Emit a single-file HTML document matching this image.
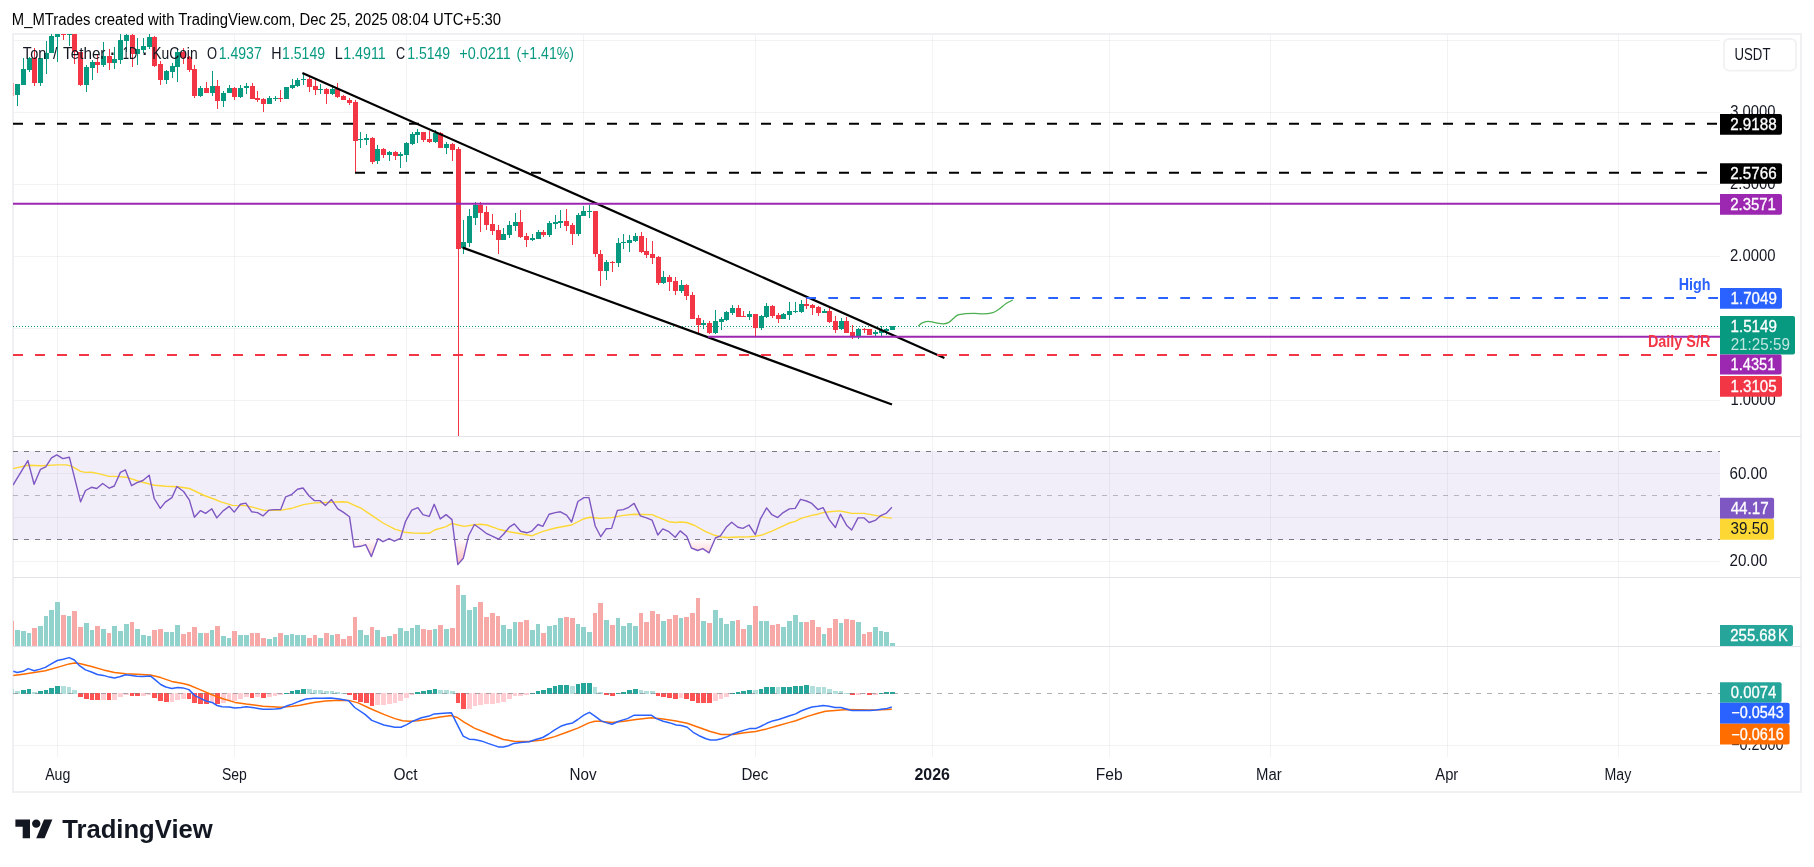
<!DOCTYPE html>
<html><head><meta charset="utf-8"><title>TONUSDT chart</title>
<style>html,body{margin:0;padding:0;background:#fff}body{width:1814px;height:867px;overflow:hidden}svg{display:block;will-change:transform}</style>
</head><body>
<svg width="1814" height="867" viewBox="0 0 1814 867" font-family="'Liberation Sans', sans-serif" font-size="15.6">
<rect width="1814" height="867" fill="#fff"/>
<g shape-rendering="crispEdges" stroke="#2a2e39" stroke-opacity="0.06" stroke-width="1">
<line x1="57.5" y1="34" x2="57.5" y2="757"/>
<line x1="234.5" y1="34" x2="234.5" y2="757"/>
<line x1="406.5" y1="34" x2="406.5" y2="757"/>
<line x1="583.5" y1="34" x2="583.5" y2="757"/>
<line x1="755.5" y1="34" x2="755.5" y2="757"/>
<line x1="932.5" y1="34" x2="932.5" y2="757"/>
<line x1="1109.5" y1="34" x2="1109.5" y2="757"/>
<line x1="1270.5" y1="34" x2="1270.5" y2="757"/>
<line x1="1447.5" y1="34" x2="1447.5" y2="757"/>
<line x1="1618.5" y1="34" x2="1618.5" y2="757"/>
<line x1="13" y1="40.5" x2="1720" y2="40.5"/>
<line x1="13" y1="112.5" x2="1720" y2="112.5"/>
<line x1="13" y1="184.5" x2="1720" y2="184.5"/>
<line x1="13" y1="256.5" x2="1720" y2="256.5"/>
<line x1="13" y1="328.5" x2="1720" y2="328.5"/>
<line x1="13" y1="400.5" x2="1720" y2="400.5"/>
<line x1="13" y1="473.5" x2="1720" y2="473.5"/>
<line x1="13" y1="517.5" x2="1720" y2="517.5"/>
<line x1="13" y1="561.5" x2="1720" y2="561.5"/>
<line x1="13" y1="745.5" x2="1720" y2="745.5"/>
</g>
<rect x="13" y="34" width="1788" height="758" fill="none" stroke="#f0f0f2" stroke-width="2"/>
<rect x="13" y="451" width="1707" height="89" fill="#7e57c2" fill-opacity="0.1"/>
<defs><clipPath id="c1"><rect x="13" y="34" width="1707" height="402"/></clipPath>
<clipPath id="c2"><rect x="13" y="436" width="1707" height="141"/></clipPath>
<clipPath id="c4"><rect x="13" y="646" width="1707" height="111"/></clipPath>
<linearGradient id="og" x1="0" y1="539" x2="0" y2="567" gradientUnits="userSpaceOnUse"><stop offset="0" stop-color="#ff5252" stop-opacity="0"/><stop offset="1" stop-color="#ff5252" stop-opacity="0.45"/></linearGradient>
</defs>
<line x1="13" y1="326.5" x2="1720" y2="326.5" stroke="#089981" stroke-width="1" stroke-dasharray="1 2" shape-rendering="crispEdges"/>
<g shape-rendering="crispEdges">
<rect x="13" y="621" width="1" height="25" fill="#f7a9a7"/>
<rect x="15" y="630" width="5" height="16" fill="#92d2cc"/>
<rect x="21" y="631" width="5" height="15" fill="#92d2cc"/>
<rect x="27" y="633" width="4" height="13" fill="#92d2cc"/>
<rect x="32" y="628" width="5" height="18" fill="#f7a9a7"/>
<rect x="38" y="626" width="5" height="20" fill="#92d2cc"/>
<rect x="44" y="616" width="4" height="30" fill="#92d2cc"/>
<rect x="49" y="610" width="5" height="36" fill="#92d2cc"/>
<rect x="55" y="602" width="5" height="44" fill="#92d2cc"/>
<rect x="61" y="615" width="5" height="31" fill="#f7a9a7"/>
<rect x="67" y="616" width="4" height="30" fill="#92d2cc"/>
<rect x="72" y="611" width="5" height="35" fill="#f7a9a7"/>
<rect x="78" y="627" width="5" height="19" fill="#f7a9a7"/>
<rect x="84" y="623" width="5" height="23" fill="#92d2cc"/>
<rect x="90" y="630" width="4" height="16" fill="#92d2cc"/>
<rect x="95" y="626" width="5" height="20" fill="#f7a9a7"/>
<rect x="101" y="629" width="5" height="17" fill="#92d2cc"/>
<rect x="107" y="633" width="4" height="13" fill="#f7a9a7"/>
<rect x="112" y="626" width="5" height="20" fill="#92d2cc"/>
<rect x="118" y="631" width="5" height="15" fill="#92d2cc"/>
<rect x="124" y="624" width="5" height="22" fill="#92d2cc"/>
<rect x="130" y="622" width="4" height="24" fill="#f7a9a7"/>
<rect x="135" y="629" width="5" height="17" fill="#92d2cc"/>
<rect x="141" y="635" width="5" height="11" fill="#92d2cc"/>
<rect x="147" y="636" width="4" height="10" fill="#92d2cc"/>
<rect x="152" y="630" width="5" height="16" fill="#f7a9a7"/>
<rect x="158" y="629" width="5" height="17" fill="#f7a9a7"/>
<rect x="164" y="632" width="5" height="14" fill="#92d2cc"/>
<rect x="170" y="632" width="4" height="14" fill="#92d2cc"/>
<rect x="175" y="625" width="5" height="21" fill="#92d2cc"/>
<rect x="181" y="634" width="5" height="12" fill="#f7a9a7"/>
<rect x="187" y="632" width="4" height="14" fill="#f7a9a7"/>
<rect x="192" y="627" width="5" height="19" fill="#f7a9a7"/>
<rect x="198" y="633" width="5" height="13" fill="#92d2cc"/>
<rect x="204" y="633" width="5" height="13" fill="#f7a9a7"/>
<rect x="210" y="630" width="4" height="16" fill="#92d2cc"/>
<rect x="215" y="626" width="5" height="20" fill="#f7a9a7"/>
<rect x="221" y="636" width="5" height="10" fill="#92d2cc"/>
<rect x="227" y="638" width="4" height="8" fill="#92d2cc"/>
<rect x="232" y="631" width="5" height="15" fill="#f7a9a7"/>
<rect x="238" y="635" width="5" height="11" fill="#92d2cc"/>
<rect x="244" y="635" width="5" height="11" fill="#92d2cc"/>
<rect x="250" y="633" width="4" height="13" fill="#f7a9a7"/>
<rect x="255" y="633" width="5" height="13" fill="#f7a9a7"/>
<rect x="261" y="638" width="5" height="8" fill="#f7a9a7"/>
<rect x="267" y="639" width="5" height="7" fill="#92d2cc"/>
<rect x="273" y="637" width="4" height="9" fill="#92d2cc"/>
<rect x="278" y="633" width="5" height="13" fill="#f7a9a7"/>
<rect x="284" y="635" width="5" height="11" fill="#92d2cc"/>
<rect x="290" y="634" width="4" height="12" fill="#92d2cc"/>
<rect x="295" y="635" width="5" height="11" fill="#92d2cc"/>
<rect x="301" y="635" width="5" height="11" fill="#92d2cc"/>
<rect x="307" y="638" width="5" height="8" fill="#f7a9a7"/>
<rect x="313" y="635" width="4" height="11" fill="#f7a9a7"/>
<rect x="318" y="638" width="5" height="8" fill="#92d2cc"/>
<rect x="324" y="633" width="5" height="13" fill="#f7a9a7"/>
<rect x="330" y="635" width="4" height="11" fill="#92d2cc"/>
<rect x="335" y="634" width="5" height="12" fill="#f7a9a7"/>
<rect x="341" y="639" width="5" height="7" fill="#f7a9a7"/>
<rect x="347" y="636" width="5" height="10" fill="#f7a9a7"/>
<rect x="353" y="617" width="4" height="29" fill="#f7a9a7"/>
<rect x="358" y="630" width="5" height="16" fill="#92d2cc"/>
<rect x="364" y="635" width="5" height="11" fill="#92d2cc"/>
<rect x="370" y="627" width="4" height="19" fill="#f7a9a7"/>
<rect x="375" y="630" width="5" height="16" fill="#92d2cc"/>
<rect x="381" y="637" width="5" height="9" fill="#f7a9a7"/>
<rect x="387" y="636" width="5" height="10" fill="#92d2cc"/>
<rect x="393" y="634" width="4" height="12" fill="#f7a9a7"/>
<rect x="398" y="628" width="5" height="18" fill="#92d2cc"/>
<rect x="404" y="631" width="5" height="15" fill="#92d2cc"/>
<rect x="410" y="628" width="4" height="18" fill="#92d2cc"/>
<rect x="415" y="625" width="5" height="21" fill="#92d2cc"/>
<rect x="421" y="629" width="5" height="17" fill="#f7a9a7"/>
<rect x="427" y="630" width="5" height="16" fill="#f7a9a7"/>
<rect x="433" y="629" width="4" height="17" fill="#92d2cc"/>
<rect x="438" y="625" width="5" height="21" fill="#f7a9a7"/>
<rect x="444" y="629" width="5" height="17" fill="#92d2cc"/>
<rect x="450" y="628" width="5" height="18" fill="#f7a9a7"/>
<rect x="456" y="585" width="4" height="61" fill="#f7a9a7"/>
<rect x="461" y="595" width="5" height="51" fill="#92d2cc"/>
<rect x="467" y="610" width="5" height="36" fill="#92d2cc"/>
<rect x="473" y="607" width="4" height="39" fill="#92d2cc"/>
<rect x="478" y="602" width="5" height="44" fill="#f7a9a7"/>
<rect x="484" y="617" width="5" height="29" fill="#f7a9a7"/>
<rect x="490" y="613" width="5" height="33" fill="#f7a9a7"/>
<rect x="496" y="616" width="4" height="30" fill="#f7a9a7"/>
<rect x="501" y="625" width="5" height="21" fill="#92d2cc"/>
<rect x="507" y="629" width="5" height="17" fill="#92d2cc"/>
<rect x="513" y="622" width="4" height="24" fill="#92d2cc"/>
<rect x="518" y="622" width="5" height="24" fill="#f7a9a7"/>
<rect x="524" y="620" width="5" height="26" fill="#f7a9a7"/>
<rect x="530" y="630" width="5" height="16" fill="#92d2cc"/>
<rect x="536" y="624" width="4" height="22" fill="#92d2cc"/>
<rect x="541" y="633" width="5" height="13" fill="#f7a9a7"/>
<rect x="547" y="626" width="5" height="20" fill="#92d2cc"/>
<rect x="553" y="625" width="4" height="21" fill="#92d2cc"/>
<rect x="558" y="618" width="5" height="28" fill="#92d2cc"/>
<rect x="564" y="617" width="5" height="29" fill="#f7a9a7"/>
<rect x="570" y="618" width="5" height="28" fill="#f7a9a7"/>
<rect x="576" y="624" width="4" height="22" fill="#92d2cc"/>
<rect x="581" y="627" width="5" height="19" fill="#92d2cc"/>
<rect x="587" y="632" width="5" height="14" fill="#92d2cc"/>
<rect x="593" y="613" width="4" height="33" fill="#f7a9a7"/>
<rect x="598" y="603" width="5" height="43" fill="#f7a9a7"/>
<rect x="604" y="620" width="5" height="26" fill="#92d2cc"/>
<rect x="610" y="625" width="5" height="21" fill="#f7a9a7"/>
<rect x="616" y="618" width="4" height="28" fill="#92d2cc"/>
<rect x="621" y="626" width="5" height="20" fill="#92d2cc"/>
<rect x="627" y="623" width="5" height="23" fill="#92d2cc"/>
<rect x="633" y="626" width="5" height="20" fill="#92d2cc"/>
<rect x="639" y="613" width="4" height="33" fill="#f7a9a7"/>
<rect x="644" y="622" width="5" height="24" fill="#f7a9a7"/>
<rect x="650" y="611" width="5" height="35" fill="#f7a9a7"/>
<rect x="656" y="614" width="4" height="32" fill="#f7a9a7"/>
<rect x="661" y="621" width="5" height="25" fill="#92d2cc"/>
<rect x="667" y="619" width="5" height="27" fill="#f7a9a7"/>
<rect x="673" y="615" width="5" height="31" fill="#f7a9a7"/>
<rect x="679" y="618" width="4" height="28" fill="#92d2cc"/>
<rect x="684" y="617" width="5" height="29" fill="#f7a9a7"/>
<rect x="690" y="613" width="5" height="33" fill="#f7a9a7"/>
<rect x="696" y="598" width="4" height="48" fill="#f7a9a7"/>
<rect x="701" y="621" width="5" height="25" fill="#92d2cc"/>
<rect x="707" y="623" width="5" height="23" fill="#f7a9a7"/>
<rect x="713" y="610" width="5" height="36" fill="#92d2cc"/>
<rect x="719" y="618" width="4" height="28" fill="#92d2cc"/>
<rect x="724" y="624" width="5" height="22" fill="#92d2cc"/>
<rect x="730" y="621" width="5" height="25" fill="#92d2cc"/>
<rect x="736" y="620" width="4" height="26" fill="#f7a9a7"/>
<rect x="741" y="629" width="5" height="17" fill="#f7a9a7"/>
<rect x="747" y="625" width="5" height="21" fill="#92d2cc"/>
<rect x="753" y="606" width="5" height="40" fill="#f7a9a7"/>
<rect x="759" y="621" width="4" height="25" fill="#92d2cc"/>
<rect x="764" y="621" width="5" height="25" fill="#92d2cc"/>
<rect x="770" y="625" width="5" height="21" fill="#f7a9a7"/>
<rect x="776" y="624" width="4" height="22" fill="#f7a9a7"/>
<rect x="781" y="627" width="5" height="19" fill="#92d2cc"/>
<rect x="787" y="621" width="5" height="25" fill="#92d2cc"/>
<rect x="793" y="615" width="5" height="31" fill="#92d2cc"/>
<rect x="799" y="622" width="4" height="24" fill="#92d2cc"/>
<rect x="804" y="622" width="5" height="24" fill="#f7a9a7"/>
<rect x="810" y="620" width="5" height="26" fill="#f7a9a7"/>
<rect x="816" y="627" width="5" height="19" fill="#f7a9a7"/>
<rect x="822" y="634" width="4" height="12" fill="#92d2cc"/>
<rect x="827" y="628" width="5" height="18" fill="#f7a9a7"/>
<rect x="833" y="619" width="5" height="27" fill="#f7a9a7"/>
<rect x="839" y="623" width="4" height="23" fill="#92d2cc"/>
<rect x="844" y="619" width="5" height="27" fill="#f7a9a7"/>
<rect x="850" y="620" width="5" height="26" fill="#f7a9a7"/>
<rect x="856" y="622" width="5" height="24" fill="#92d2cc"/>
<rect x="862" y="634" width="4" height="12" fill="#f7a9a7"/>
<rect x="867" y="632" width="5" height="14" fill="#f7a9a7"/>
<rect x="873" y="627" width="5" height="19" fill="#92d2cc"/>
<rect x="879" y="631" width="4" height="15" fill="#92d2cc"/>
<rect x="884" y="632" width="5" height="14" fill="#92d2cc"/>
<rect x="890" y="643" width="5" height="3" fill="#92d2cc"/>
</g>
<g shape-rendering="crispEdges" clip-path="url(#c1)">
<rect x="11" y="83" width="1" height="13" fill="#f23645" fill-opacity="0.45"/>
<rect x="9" y="83" width="5" height="13" fill="#f23645" fill-opacity="0.45"/>
<rect x="17" y="84" width="1" height="22" fill="#089981"/>
<rect x="15" y="84" width="5" height="11" fill="#089981"/>
<rect x="23" y="58" width="1" height="27" fill="#089981"/>
<rect x="21" y="69" width="5" height="16" fill="#089981"/>
<rect x="29" y="57" width="1" height="15" fill="#089981"/>
<rect x="27" y="58" width="5" height="12" fill="#089981"/>
<rect x="34" y="48" width="1" height="38" fill="#f23645"/>
<rect x="32" y="58" width="5" height="25" fill="#f23645"/>
<rect x="40" y="58" width="1" height="28" fill="#089981"/>
<rect x="38" y="58" width="5" height="25" fill="#089981"/>
<rect x="46" y="41" width="1" height="33" fill="#089981"/>
<rect x="44" y="53" width="5" height="6" fill="#089981"/>
<rect x="51" y="34" width="1" height="19" fill="#089981"/>
<rect x="49" y="36" width="5" height="17" fill="#089981"/>
<rect x="57" y="33" width="1" height="29" fill="#089981"/>
<rect x="55" y="33" width="5" height="4" fill="#089981"/>
<rect x="63" y="33" width="1" height="7" fill="#f23645"/>
<rect x="61" y="33" width="5" height="2" fill="#f23645"/>
<rect x="69" y="33" width="1" height="13" fill="#089981"/>
<rect x="67" y="33" width="5" height="2" fill="#089981"/>
<rect x="74" y="33" width="1" height="31" fill="#f23645"/>
<rect x="72" y="33" width="5" height="19" fill="#f23645"/>
<rect x="80" y="52" width="1" height="34" fill="#f23645"/>
<rect x="78" y="52" width="5" height="33" fill="#f23645"/>
<rect x="86" y="65" width="1" height="27" fill="#089981"/>
<rect x="84" y="67" width="5" height="18" fill="#089981"/>
<rect x="92" y="60" width="1" height="20" fill="#089981"/>
<rect x="90" y="62" width="5" height="6" fill="#089981"/>
<rect x="97" y="55" width="1" height="18" fill="#f23645"/>
<rect x="95" y="62" width="5" height="3" fill="#f23645"/>
<rect x="103" y="42" width="1" height="25" fill="#089981"/>
<rect x="101" y="56" width="5" height="9" fill="#089981"/>
<rect x="109" y="49" width="1" height="21" fill="#f23645"/>
<rect x="107" y="56" width="5" height="7" fill="#f23645"/>
<rect x="114" y="47" width="1" height="22" fill="#089981"/>
<rect x="112" y="59" width="5" height="4" fill="#089981"/>
<rect x="120" y="33" width="1" height="31" fill="#089981"/>
<rect x="118" y="40" width="5" height="20" fill="#089981"/>
<rect x="126" y="33" width="1" height="19" fill="#089981"/>
<rect x="124" y="35" width="5" height="6" fill="#089981"/>
<rect x="132" y="33" width="1" height="34" fill="#f23645"/>
<rect x="130" y="35" width="5" height="19" fill="#f23645"/>
<rect x="137" y="38" width="1" height="27" fill="#089981"/>
<rect x="135" y="49" width="5" height="5" fill="#089981"/>
<rect x="143" y="38" width="1" height="15" fill="#089981"/>
<rect x="141" y="46" width="5" height="4" fill="#089981"/>
<rect x="149" y="34" width="1" height="15" fill="#089981"/>
<rect x="147" y="37" width="5" height="10" fill="#089981"/>
<rect x="154" y="36" width="1" height="31" fill="#f23645"/>
<rect x="152" y="37" width="5" height="29" fill="#f23645"/>
<rect x="160" y="61" width="1" height="24" fill="#f23645"/>
<rect x="158" y="64" width="5" height="16" fill="#f23645"/>
<rect x="166" y="70" width="1" height="14" fill="#089981"/>
<rect x="164" y="71" width="5" height="9" fill="#089981"/>
<rect x="172" y="63" width="1" height="15" fill="#089981"/>
<rect x="170" y="66" width="5" height="6" fill="#089981"/>
<rect x="177" y="48" width="1" height="34" fill="#089981"/>
<rect x="175" y="52" width="5" height="15" fill="#089981"/>
<rect x="183" y="48" width="1" height="16" fill="#f23645"/>
<rect x="181" y="52" width="5" height="6" fill="#f23645"/>
<rect x="189" y="56" width="1" height="16" fill="#f23645"/>
<rect x="187" y="57" width="5" height="13" fill="#f23645"/>
<rect x="194" y="65" width="1" height="33" fill="#f23645"/>
<rect x="192" y="69" width="5" height="27" fill="#f23645"/>
<rect x="200" y="86" width="1" height="11" fill="#089981"/>
<rect x="198" y="88" width="5" height="8" fill="#089981"/>
<rect x="206" y="82" width="1" height="11" fill="#f23645"/>
<rect x="204" y="88" width="5" height="5" fill="#f23645"/>
<rect x="212" y="71" width="1" height="25" fill="#089981"/>
<rect x="210" y="86" width="5" height="7" fill="#089981"/>
<rect x="217" y="80" width="1" height="29" fill="#f23645"/>
<rect x="215" y="86" width="5" height="15" fill="#f23645"/>
<rect x="223" y="91" width="1" height="16" fill="#089981"/>
<rect x="221" y="93" width="5" height="8" fill="#089981"/>
<rect x="229" y="85" width="1" height="8" fill="#089981"/>
<rect x="227" y="88" width="5" height="5" fill="#089981"/>
<rect x="234" y="87" width="1" height="13" fill="#f23645"/>
<rect x="232" y="88" width="5" height="9" fill="#f23645"/>
<rect x="240" y="85" width="1" height="13" fill="#089981"/>
<rect x="238" y="88" width="5" height="9" fill="#089981"/>
<rect x="246" y="83" width="1" height="11" fill="#089981"/>
<rect x="244" y="86" width="5" height="2" fill="#089981"/>
<rect x="252" y="83" width="1" height="16" fill="#f23645"/>
<rect x="250" y="86" width="5" height="13" fill="#f23645"/>
<rect x="257" y="91" width="1" height="11" fill="#f23645"/>
<rect x="255" y="98" width="5" height="2" fill="#f23645"/>
<rect x="263" y="98" width="1" height="14" fill="#f23645"/>
<rect x="261" y="99" width="5" height="5" fill="#f23645"/>
<rect x="269" y="96" width="1" height="8" fill="#089981"/>
<rect x="267" y="98" width="5" height="6" fill="#089981"/>
<rect x="275" y="96" width="1" height="5" fill="#089981"/>
<rect x="273" y="98" width="5" height="1" fill="#089981"/>
<rect x="280" y="90" width="1" height="12" fill="#f23645"/>
<rect x="278" y="98" width="5" height="1" fill="#f23645"/>
<rect x="286" y="87" width="1" height="12" fill="#089981"/>
<rect x="284" y="87" width="5" height="12" fill="#089981"/>
<rect x="292" y="79" width="1" height="10" fill="#089981"/>
<rect x="290" y="85" width="5" height="3" fill="#089981"/>
<rect x="297" y="78" width="1" height="9" fill="#089981"/>
<rect x="295" y="80" width="5" height="6" fill="#089981"/>
<rect x="303" y="74" width="1" height="11" fill="#089981"/>
<rect x="301" y="79" width="5" height="1" fill="#089981"/>
<rect x="309" y="77" width="1" height="15" fill="#f23645"/>
<rect x="307" y="79" width="5" height="8" fill="#f23645"/>
<rect x="315" y="80" width="1" height="15" fill="#f23645"/>
<rect x="313" y="86" width="5" height="4" fill="#f23645"/>
<rect x="320" y="84" width="1" height="10" fill="#089981"/>
<rect x="318" y="89" width="5" height="1" fill="#089981"/>
<rect x="326" y="88" width="1" height="16" fill="#f23645"/>
<rect x="324" y="89" width="5" height="5" fill="#f23645"/>
<rect x="332" y="85" width="1" height="10" fill="#089981"/>
<rect x="330" y="89" width="5" height="5" fill="#089981"/>
<rect x="337" y="83" width="1" height="15" fill="#f23645"/>
<rect x="335" y="89" width="5" height="8" fill="#f23645"/>
<rect x="343" y="95" width="1" height="5" fill="#f23645"/>
<rect x="341" y="96" width="5" height="4" fill="#f23645"/>
<rect x="349" y="98" width="1" height="7" fill="#f23645"/>
<rect x="347" y="100" width="5" height="3" fill="#f23645"/>
<rect x="355" y="100" width="1" height="72" fill="#f23645"/>
<rect x="353" y="102" width="5" height="39" fill="#f23645"/>
<rect x="360" y="132" width="1" height="16" fill="#089981"/>
<rect x="358" y="139" width="5" height="1" fill="#089981"/>
<rect x="366" y="134" width="1" height="11" fill="#089981"/>
<rect x="364" y="138" width="5" height="2" fill="#089981"/>
<rect x="372" y="137" width="1" height="27" fill="#f23645"/>
<rect x="370" y="138" width="5" height="24" fill="#f23645"/>
<rect x="377" y="145" width="1" height="19" fill="#089981"/>
<rect x="375" y="149" width="5" height="12" fill="#089981"/>
<rect x="383" y="148" width="1" height="10" fill="#f23645"/>
<rect x="381" y="149" width="5" height="6" fill="#f23645"/>
<rect x="389" y="151" width="1" height="10" fill="#089981"/>
<rect x="387" y="152" width="5" height="3" fill="#089981"/>
<rect x="395" y="151" width="1" height="9" fill="#f23645"/>
<rect x="393" y="152" width="5" height="4" fill="#f23645"/>
<rect x="400" y="152" width="1" height="16" fill="#089981"/>
<rect x="398" y="154" width="5" height="2" fill="#089981"/>
<rect x="406" y="142" width="1" height="20" fill="#089981"/>
<rect x="404" y="143" width="5" height="12" fill="#089981"/>
<rect x="412" y="132" width="1" height="13" fill="#089981"/>
<rect x="410" y="134" width="5" height="10" fill="#089981"/>
<rect x="417" y="129" width="1" height="14" fill="#089981"/>
<rect x="415" y="132" width="5" height="3" fill="#089981"/>
<rect x="423" y="132" width="1" height="10" fill="#f23645"/>
<rect x="421" y="132" width="5" height="8" fill="#f23645"/>
<rect x="429" y="131" width="1" height="12" fill="#f23645"/>
<rect x="427" y="139" width="5" height="3" fill="#f23645"/>
<rect x="435" y="130" width="1" height="13" fill="#089981"/>
<rect x="433" y="133" width="5" height="9" fill="#089981"/>
<rect x="440" y="132" width="1" height="16" fill="#f23645"/>
<rect x="438" y="133" width="5" height="15" fill="#f23645"/>
<rect x="446" y="142" width="1" height="12" fill="#089981"/>
<rect x="444" y="144" width="5" height="4" fill="#089981"/>
<rect x="452" y="143" width="1" height="18" fill="#f23645"/>
<rect x="450" y="144" width="5" height="6" fill="#f23645"/>
<rect x="458" y="147" width="1" height="289" fill="#f23645"/>
<rect x="456" y="149" width="5" height="100" fill="#f23645"/>
<rect x="463" y="220" width="1" height="34" fill="#089981"/>
<rect x="461" y="242" width="5" height="6" fill="#089981"/>
<rect x="469" y="209" width="1" height="38" fill="#089981"/>
<rect x="467" y="216" width="5" height="27" fill="#089981"/>
<rect x="475" y="202" width="1" height="23" fill="#089981"/>
<rect x="473" y="205" width="5" height="13" fill="#089981"/>
<rect x="480" y="202" width="1" height="30" fill="#f23645"/>
<rect x="478" y="205" width="5" height="8" fill="#f23645"/>
<rect x="486" y="206" width="1" height="24" fill="#f23645"/>
<rect x="484" y="212" width="5" height="13" fill="#f23645"/>
<rect x="492" y="214" width="1" height="21" fill="#f23645"/>
<rect x="490" y="224" width="5" height="7" fill="#f23645"/>
<rect x="498" y="225" width="1" height="29" fill="#f23645"/>
<rect x="496" y="230" width="5" height="10" fill="#f23645"/>
<rect x="503" y="228" width="1" height="12" fill="#089981"/>
<rect x="501" y="234" width="5" height="6" fill="#089981"/>
<rect x="509" y="221" width="1" height="17" fill="#089981"/>
<rect x="507" y="225" width="5" height="10" fill="#089981"/>
<rect x="515" y="213" width="1" height="18" fill="#089981"/>
<rect x="513" y="222" width="5" height="4" fill="#089981"/>
<rect x="520" y="210" width="1" height="28" fill="#f23645"/>
<rect x="518" y="222" width="5" height="15" fill="#f23645"/>
<rect x="526" y="233" width="1" height="14" fill="#f23645"/>
<rect x="524" y="236" width="5" height="4" fill="#f23645"/>
<rect x="532" y="234" width="1" height="7" fill="#089981"/>
<rect x="530" y="238" width="5" height="2" fill="#089981"/>
<rect x="538" y="230" width="1" height="9" fill="#089981"/>
<rect x="536" y="232" width="5" height="7" fill="#089981"/>
<rect x="543" y="230" width="1" height="7" fill="#f23645"/>
<rect x="541" y="232" width="5" height="3" fill="#f23645"/>
<rect x="549" y="221" width="1" height="16" fill="#089981"/>
<rect x="547" y="223" width="5" height="12" fill="#089981"/>
<rect x="555" y="215" width="1" height="14" fill="#089981"/>
<rect x="553" y="222" width="5" height="2" fill="#089981"/>
<rect x="560" y="210" width="1" height="18" fill="#089981"/>
<rect x="558" y="221" width="5" height="2" fill="#089981"/>
<rect x="566" y="209" width="1" height="22" fill="#f23645"/>
<rect x="564" y="221" width="5" height="5" fill="#f23645"/>
<rect x="572" y="223" width="1" height="22" fill="#f23645"/>
<rect x="570" y="225" width="5" height="9" fill="#f23645"/>
<rect x="578" y="213" width="1" height="23" fill="#089981"/>
<rect x="576" y="215" width="5" height="19" fill="#089981"/>
<rect x="583" y="206" width="1" height="10" fill="#089981"/>
<rect x="581" y="211" width="5" height="5" fill="#089981"/>
<rect x="589" y="205" width="1" height="13" fill="#089981"/>
<rect x="587" y="211" width="5" height="1" fill="#089981"/>
<rect x="595" y="211" width="1" height="46" fill="#f23645"/>
<rect x="593" y="211" width="5" height="43" fill="#f23645"/>
<rect x="600" y="250" width="1" height="36" fill="#f23645"/>
<rect x="598" y="254" width="5" height="17" fill="#f23645"/>
<rect x="606" y="260" width="1" height="20" fill="#089981"/>
<rect x="604" y="262" width="5" height="9" fill="#089981"/>
<rect x="612" y="261" width="1" height="11" fill="#f23645"/>
<rect x="610" y="262" width="5" height="1" fill="#f23645"/>
<rect x="618" y="238" width="1" height="29" fill="#089981"/>
<rect x="616" y="243" width="5" height="20" fill="#089981"/>
<rect x="623" y="234" width="1" height="15" fill="#089981"/>
<rect x="621" y="242" width="5" height="1" fill="#089981"/>
<rect x="629" y="235" width="1" height="17" fill="#089981"/>
<rect x="627" y="240" width="5" height="3" fill="#089981"/>
<rect x="635" y="233" width="1" height="9" fill="#089981"/>
<rect x="633" y="236" width="5" height="5" fill="#089981"/>
<rect x="641" y="232" width="1" height="21" fill="#f23645"/>
<rect x="639" y="236" width="5" height="16" fill="#f23645"/>
<rect x="646" y="238" width="1" height="20" fill="#f23645"/>
<rect x="644" y="251" width="5" height="4" fill="#f23645"/>
<rect x="652" y="241" width="1" height="23" fill="#f23645"/>
<rect x="650" y="254" width="5" height="4" fill="#f23645"/>
<rect x="658" y="256" width="1" height="29" fill="#f23645"/>
<rect x="656" y="257" width="5" height="26" fill="#f23645"/>
<rect x="663" y="271" width="1" height="13" fill="#089981"/>
<rect x="661" y="277" width="5" height="6" fill="#089981"/>
<rect x="669" y="275" width="1" height="16" fill="#f23645"/>
<rect x="667" y="277" width="5" height="5" fill="#f23645"/>
<rect x="675" y="277" width="1" height="18" fill="#f23645"/>
<rect x="673" y="281" width="5" height="10" fill="#f23645"/>
<rect x="681" y="280" width="1" height="13" fill="#089981"/>
<rect x="679" y="285" width="5" height="6" fill="#089981"/>
<rect x="686" y="284" width="1" height="16" fill="#f23645"/>
<rect x="684" y="285" width="5" height="11" fill="#f23645"/>
<rect x="692" y="292" width="1" height="27" fill="#f23645"/>
<rect x="690" y="295" width="5" height="24" fill="#f23645"/>
<rect x="698" y="315" width="1" height="18" fill="#f23645"/>
<rect x="696" y="318" width="5" height="7" fill="#f23645"/>
<rect x="703" y="320" width="1" height="9" fill="#089981"/>
<rect x="701" y="323" width="5" height="2" fill="#089981"/>
<rect x="709" y="321" width="1" height="13" fill="#f23645"/>
<rect x="707" y="323" width="5" height="10" fill="#f23645"/>
<rect x="715" y="310" width="1" height="24" fill="#089981"/>
<rect x="713" y="321" width="5" height="12" fill="#089981"/>
<rect x="721" y="317" width="1" height="13" fill="#089981"/>
<rect x="719" y="319" width="5" height="3" fill="#089981"/>
<rect x="726" y="311" width="1" height="10" fill="#089981"/>
<rect x="724" y="312" width="5" height="8" fill="#089981"/>
<rect x="732" y="305" width="1" height="10" fill="#089981"/>
<rect x="730" y="308" width="5" height="5" fill="#089981"/>
<rect x="738" y="305" width="1" height="12" fill="#f23645"/>
<rect x="736" y="308" width="5" height="9" fill="#f23645"/>
<rect x="743" y="311" width="1" height="6" fill="#f23645"/>
<rect x="741" y="316" width="5" height="1" fill="#f23645"/>
<rect x="749" y="311" width="1" height="9" fill="#089981"/>
<rect x="747" y="314" width="5" height="3" fill="#089981"/>
<rect x="755" y="314" width="1" height="22" fill="#f23645"/>
<rect x="753" y="314" width="5" height="14" fill="#f23645"/>
<rect x="761" y="315" width="1" height="15" fill="#089981"/>
<rect x="759" y="316" width="5" height="12" fill="#089981"/>
<rect x="766" y="303" width="1" height="15" fill="#089981"/>
<rect x="764" y="306" width="5" height="11" fill="#089981"/>
<rect x="772" y="305" width="1" height="13" fill="#f23645"/>
<rect x="770" y="306" width="5" height="10" fill="#f23645"/>
<rect x="778" y="313" width="1" height="10" fill="#f23645"/>
<rect x="776" y="315" width="5" height="4" fill="#f23645"/>
<rect x="783" y="313" width="1" height="6" fill="#089981"/>
<rect x="781" y="314" width="5" height="5" fill="#089981"/>
<rect x="789" y="302" width="1" height="18" fill="#089981"/>
<rect x="787" y="311" width="5" height="4" fill="#089981"/>
<rect x="795" y="302" width="1" height="11" fill="#089981"/>
<rect x="793" y="311" width="5" height="1" fill="#089981"/>
<rect x="801" y="300" width="1" height="13" fill="#089981"/>
<rect x="799" y="304" width="5" height="8" fill="#089981"/>
<rect x="806" y="298" width="1" height="11" fill="#f23645"/>
<rect x="804" y="304" width="5" height="2" fill="#f23645"/>
<rect x="812" y="304" width="1" height="11" fill="#f23645"/>
<rect x="810" y="305" width="5" height="3" fill="#f23645"/>
<rect x="818" y="306" width="1" height="10" fill="#f23645"/>
<rect x="816" y="307" width="5" height="6" fill="#f23645"/>
<rect x="824" y="309" width="1" height="4" fill="#089981"/>
<rect x="822" y="311" width="5" height="2" fill="#089981"/>
<rect x="829" y="308" width="1" height="15" fill="#f23645"/>
<rect x="827" y="311" width="5" height="11" fill="#f23645"/>
<rect x="835" y="316" width="1" height="17" fill="#f23645"/>
<rect x="833" y="321" width="5" height="9" fill="#f23645"/>
<rect x="841" y="318" width="1" height="12" fill="#089981"/>
<rect x="839" y="321" width="5" height="8" fill="#089981"/>
<rect x="846" y="317" width="1" height="16" fill="#f23645"/>
<rect x="844" y="321" width="5" height="12" fill="#f23645"/>
<rect x="852" y="325" width="1" height="14" fill="#f23645"/>
<rect x="850" y="332" width="5" height="4" fill="#f23645"/>
<rect x="858" y="328" width="1" height="11" fill="#089981"/>
<rect x="856" y="329" width="5" height="7" fill="#089981"/>
<rect x="864" y="328" width="1" height="5" fill="#f23645"/>
<rect x="862" y="329" width="5" height="1" fill="#f23645"/>
<rect x="869" y="329" width="1" height="6" fill="#f23645"/>
<rect x="867" y="329" width="5" height="6" fill="#f23645"/>
<rect x="875" y="330" width="1" height="6" fill="#089981"/>
<rect x="873" y="332" width="5" height="2" fill="#089981"/>
<rect x="881" y="326" width="1" height="10" fill="#089981"/>
<rect x="879" y="330" width="5" height="3" fill="#089981"/>
<rect x="886" y="328" width="1" height="7" fill="#089981"/>
<rect x="884" y="329" width="5" height="2" fill="#089981"/>
<rect x="892" y="326" width="1" height="4" fill="#089981"/>
<rect x="890" y="326" width="5" height="4" fill="#089981"/>
</g>
<g clip-path="url(#c1)">
<line x1="302.4" y1="73" x2="944.4" y2="358" stroke="#000" stroke-width="2.2"/>
<line x1="462.7" y1="247.6" x2="892" y2="404.5" stroke="#000" stroke-width="2.2"/>
<line x1="13" y1="123.8" x2="1720" y2="123.8" stroke="#000" stroke-width="2" stroke-dasharray="10 12"/>
<line x1="355" y1="172.8" x2="1718" y2="172.8" stroke="#000" stroke-width="2" stroke-dasharray="10 12"/>
<line x1="13" y1="203.8" x2="1720" y2="203.8" stroke="#9c27b0" stroke-width="2"/>
<line x1="708" y1="336.8" x2="1720" y2="336.8" stroke="#9c27b0" stroke-width="2"/>
<line x1="806.3" y1="297.9" x2="1720" y2="297.9" stroke="#2962ff" stroke-width="2" stroke-dasharray="9.7 12.3"/>
<line x1="13" y1="355" x2="1720" y2="355" stroke="#f23645" stroke-width="2" stroke-dasharray="10 12"/>
<path d="M918.4,326.2C918.9,325.7 920.1,323.9 921.7,323.1C923.3,322.3 925.7,321.4 928.0,321.3C930.2,321.2 932.5,322.2 935.1,322.6C937.6,323.0 940.8,323.8 943.1,323.8C945.3,323.8 946.6,323.6 948.4,322.6C950.2,321.7 952.1,319.5 953.7,318.2C955.3,316.9 956.2,315.6 958.2,314.9C960.1,314.2 962.6,314.0 965.3,313.7C967.9,313.5 971.2,313.3 974.1,313.3C977.1,313.3 980.1,314.0 983.0,313.9C986.0,313.9 989.4,313.6 991.9,312.9C994.4,312.2 995.7,311.3 998.1,309.8C1000.5,308.2 1003.7,305.2 1006.1,303.5C1008.6,301.9 1011.7,300.6 1012.8,300.0" fill="none" stroke="#4caf50" stroke-width="1.3"/>
</g>
<g clip-path="url(#c2)">
<polygon points="352.8,539.5 354.0,547.1 360.6,546.3 365.6,544.6 371.4,556.6 377.7,539.5" fill="url(#og)"/>
<polygon points="379.4,539.5 383.0,541.7 387.4,539.5" fill="url(#og)"/>
<polygon points="390.9,539.5 394.3,541.2 397.9,539.5" fill="url(#og)"/>
<polygon points="454.5,539.5 457.8,564.6 463.3,558.3 467.7,539.5" fill="url(#og)"/>
<polygon points="688.0,539.5 691.4,548.0 697.7,550.5 702.7,548.6 709.1,552.8 714.8,539.5" fill="url(#og)"/>
<line x1="13" y1="451.5" x2="1720" y2="451.5" stroke="#787b86" stroke-width="1" stroke-dasharray="5 6" shape-rendering="crispEdges"/>
<line x1="13" y1="495.5" x2="1720" y2="495.5" stroke="#787b86" stroke-opacity="0.5" stroke-width="1" stroke-dasharray="5 6" shape-rendering="crispEdges"/>
<line x1="13" y1="539.5" x2="1720" y2="539.5" stroke="#787b86" stroke-width="1" stroke-dasharray="5 6" shape-rendering="crispEdges"/>
<polyline points="13.0,468.6 27.9,465.2 41.5,465.7 56.8,464.9 66.4,464.9 71.4,466.1 80.6,471.4 85.5,472.4 91.4,472.2 99.7,473.9 108.8,476.4 116.3,476.4 126.2,477.2 137.9,481.0 154.5,485.2 166.1,486.3 177.7,486.8 189.4,488.5 204.3,495.5 212.6,498.5 220.9,501.8 232.6,505.4 245.8,505.6 254.2,507.6 264.1,510.4 280.7,510.4 290.7,508.4 290.0,508.8 303.3,504.6 314.9,502.9 331.5,502.3 343.2,501.8 348.1,502.3 354.0,505.1 361.4,508.4 371.4,515.1 383.0,523.0 394.7,529.2 404.6,532.2 412.9,533.0 422.9,533.3 429.2,533.3 434.5,530.0 446.1,526.7 452.0,523.4 457.8,525.0 464.4,526.4 474.4,524.7 481.0,524.2 486.8,525.0 498.5,529.2 509.3,531.7 520.6,533.8 531.7,535.8 542.8,531.4 555.3,528.0 571.6,525.0 584.0,518.7 590.0,517.2 600.0,518.4 611.6,517.6 623.3,515.4 634.1,514.2 652.0,514.6 659.8,517.9 668.9,521.7 675.2,522.5 680.2,522.0 686.7,522.5 694.7,525.5 704.7,531.2 714.6,535.3 721.3,537.0 727.9,537.5 737.9,537.0 749.0,536.7 755.3,536.3 761.1,535.3 771.9,531.2 783.2,525.9 789.4,523.0 795.2,521.4 801.0,518.4 811.8,515.4 817.9,514.2 823.1,512.6 829.2,511.8 839.2,510.9 846.7,512.2 851.7,513.4 864.1,513.4 875.2,515.4 886.5,517.6 891.9,518.1" fill="none" stroke="#fdd835" stroke-width="1.4" stroke-linejoin="round"/>
<polyline points="13.0,485.2 27.9,460.6 34.1,484.3 40.4,469.4 45.7,466.9 51.5,457.8 56.8,454.9 62.8,458.6 69.4,457.3 80.6,501.8 85.5,490.5 91.4,487.3 96.8,488.5 102.7,483.5 109.3,488.2 114.3,486.0 120.4,472.4 125.4,469.9 131.6,485.7 137.0,482.7 142.9,480.5 149.2,475.2 154.2,498.5 160.3,508.4 165.3,502.1 171.9,497.6 176.9,486.5 183.6,491.5 189.4,500.1 194.4,517.2 200.5,510.6 205.6,513.4 211.8,508.8 216.8,517.9 223.1,510.9 229.2,506.4 234.2,512.1 240.4,504.3 245.8,503.1 251.7,511.8 257.5,512.6 263.0,515.9 269.1,510.1 274.1,509.6 280.7,509.6 285.7,496.8 291.9,494.3 297.5,489.3 303.0,488.0 309.1,496.0 314.4,500.6 319.9,500.6 325.4,505.4 331.5,499.6 337.8,508.8 343.2,512.1 349.5,516.7 354.0,547.1 360.6,546.3 365.6,544.6 371.4,556.6 378.0,538.7 383.0,541.7 389.2,538.7 394.3,541.2 400.5,538.3 405.4,521.7 411.8,510.1 417.9,507.6 422.9,514.6 429.2,516.4 434.2,504.3 440.3,518.9 446.1,514.6 452.0,519.6 457.8,564.6 463.3,558.3 468.6,535.8 474.4,524.5 481.0,529.2 486.8,533.7 492.7,536.3 498.5,539.2 503.5,534.2 509.3,527.2 514.3,523.9 520.6,531.2 526.7,532.8 531.7,531.2 538.0,524.5 542.8,526.4 549.1,514.2 555.3,512.6 560.4,511.8 566.6,515.1 571.6,522.0 577.9,501.5 584.0,497.6 589.0,497.6 595.2,526.0 600.8,536.7 606.3,528.7 611.6,528.4 617.4,510.4 623.3,509.6 628.7,507.3 634.1,503.4 640.4,515.9 646.5,517.9 652.0,520.1 657.8,535.0 662.8,528.9 668.9,531.7 675.2,537.2 680.2,530.9 686.7,536.3 691.4,548.0 697.7,550.5 702.7,548.6 709.1,552.8 715.4,538.0 720.4,535.8 726.7,526.7 731.7,522.2 737.9,527.2 742.9,528.4 749.0,525.0 755.3,534.7 760.3,519.2 766.6,507.9 771.9,514.7 777.7,517.6 783.2,512.6 789.4,508.9 795.2,508.4 800.5,499.3 806.5,501.0 811.8,503.4 817.9,509.6 823.1,507.6 829.2,519.6 835.4,527.5 840.4,514.2 846.7,525.4 851.7,530.0 858.0,517.9 864.1,517.9 869.1,522.5 875.2,520.4 880.2,515.9 886.5,513.1 891.9,507.3" fill="none" stroke="#7e57c2" stroke-width="1.4" stroke-linejoin="round"/>
</g>
<g clip-path="url(#c4)">
<g shape-rendering="crispEdges">
<rect x="13" y="689" width="1" height="5" fill="#b2dfdb"/>
<rect x="15" y="691" width="5" height="3" fill="#b2dfdb"/>
<rect x="21" y="690" width="5" height="4" fill="#26a69a"/>
<rect x="27" y="689" width="4" height="5" fill="#26a69a"/>
<rect x="32" y="692" width="5" height="2" fill="#b2dfdb"/>
<rect x="38" y="691" width="5" height="3" fill="#26a69a"/>
<rect x="44" y="690" width="4" height="4" fill="#26a69a"/>
<rect x="49" y="688" width="5" height="6" fill="#26a69a"/>
<rect x="55" y="686" width="5" height="8" fill="#26a69a"/>
<rect x="61" y="686" width="5" height="8" fill="#b2dfdb"/>
<rect x="67" y="687" width="4" height="7" fill="#b2dfdb"/>
<rect x="72" y="690" width="5" height="4" fill="#b2dfdb"/>
<rect x="78" y="693" width="5" height="4" fill="#ff5252"/>
<rect x="84" y="693" width="5" height="6" fill="#ff5252"/>
<rect x="90" y="693" width="4" height="7" fill="#ff5252"/>
<rect x="95" y="693" width="5" height="7" fill="#ff5252"/>
<rect x="101" y="693" width="5" height="7" fill="#ffcdd2"/>
<rect x="107" y="693" width="4" height="7" fill="#ff5252"/>
<rect x="112" y="693" width="5" height="7" fill="#ffcdd2"/>
<rect x="118" y="693" width="5" height="4" fill="#ffcdd2"/>
<rect x="124" y="693" width="5" height="2" fill="#ffcdd2"/>
<rect x="130" y="693" width="4" height="3" fill="#ff5252"/>
<rect x="135" y="693" width="5" height="3" fill="#ff5252"/>
<rect x="141" y="693" width="5" height="3" fill="#ffcdd2"/>
<rect x="147" y="693" width="4" height="2" fill="#ffcdd2"/>
<rect x="152" y="693" width="5" height="5" fill="#ff5252"/>
<rect x="158" y="693" width="5" height="8" fill="#ff5252"/>
<rect x="164" y="693" width="5" height="9" fill="#ff5252"/>
<rect x="170" y="693" width="4" height="9" fill="#ffcdd2"/>
<rect x="175" y="693" width="5" height="7" fill="#ffcdd2"/>
<rect x="181" y="693" width="5" height="6" fill="#ffcdd2"/>
<rect x="187" y="693" width="4" height="6" fill="#ff5252"/>
<rect x="192" y="693" width="5" height="10" fill="#ff5252"/>
<rect x="198" y="693" width="5" height="11" fill="#ff5252"/>
<rect x="204" y="693" width="5" height="11" fill="#ff5252"/>
<rect x="210" y="693" width="4" height="10" fill="#ffcdd2"/>
<rect x="215" y="693" width="5" height="11" fill="#ff5252"/>
<rect x="221" y="693" width="5" height="10" fill="#ffcdd2"/>
<rect x="227" y="693" width="4" height="8" fill="#ffcdd2"/>
<rect x="232" y="693" width="5" height="8" fill="#ffcdd2"/>
<rect x="238" y="693" width="5" height="6" fill="#ffcdd2"/>
<rect x="244" y="693" width="5" height="4" fill="#ffcdd2"/>
<rect x="250" y="693" width="4" height="5" fill="#ff5252"/>
<rect x="255" y="693" width="5" height="4" fill="#ffcdd2"/>
<rect x="261" y="693" width="5" height="5" fill="#ff5252"/>
<rect x="267" y="693" width="5" height="4" fill="#ffcdd2"/>
<rect x="273" y="693" width="4" height="3" fill="#ffcdd2"/>
<rect x="278" y="693" width="5" height="2" fill="#ffcdd2"/>
<rect x="284" y="693" width="5" height="1" fill="#26a69a"/>
<rect x="290" y="691" width="4" height="3" fill="#26a69a"/>
<rect x="295" y="690" width="5" height="4" fill="#26a69a"/>
<rect x="301" y="689" width="5" height="5" fill="#26a69a"/>
<rect x="307" y="689" width="5" height="5" fill="#b2dfdb"/>
<rect x="313" y="690" width="4" height="4" fill="#b2dfdb"/>
<rect x="318" y="690" width="5" height="4" fill="#b2dfdb"/>
<rect x="324" y="691" width="5" height="3" fill="#b2dfdb"/>
<rect x="330" y="691" width="4" height="3" fill="#b2dfdb"/>
<rect x="335" y="692" width="5" height="2" fill="#b2dfdb"/>
<rect x="341" y="693" width="5" height="1" fill="#b2dfdb"/>
<rect x="347" y="693" width="5" height="2" fill="#ff5252"/>
<rect x="353" y="693" width="4" height="7" fill="#ff5252"/>
<rect x="358" y="693" width="5" height="9" fill="#ff5252"/>
<rect x="364" y="693" width="5" height="10" fill="#ff5252"/>
<rect x="370" y="693" width="4" height="13" fill="#ff5252"/>
<rect x="375" y="693" width="5" height="12" fill="#ffcdd2"/>
<rect x="381" y="693" width="5" height="12" fill="#ffcdd2"/>
<rect x="387" y="693" width="5" height="11" fill="#ffcdd2"/>
<rect x="393" y="693" width="4" height="10" fill="#ffcdd2"/>
<rect x="398" y="693" width="5" height="8" fill="#ffcdd2"/>
<rect x="404" y="693" width="5" height="5" fill="#ffcdd2"/>
<rect x="410" y="693" width="4" height="2" fill="#ffcdd2"/>
<rect x="415" y="692" width="5" height="2" fill="#26a69a"/>
<rect x="421" y="691" width="5" height="3" fill="#26a69a"/>
<rect x="427" y="690" width="5" height="4" fill="#26a69a"/>
<rect x="433" y="689" width="4" height="5" fill="#26a69a"/>
<rect x="438" y="690" width="5" height="4" fill="#b2dfdb"/>
<rect x="444" y="690" width="5" height="4" fill="#b2dfdb"/>
<rect x="450" y="691" width="5" height="3" fill="#b2dfdb"/>
<rect x="456" y="693" width="4" height="10" fill="#ff5252"/>
<rect x="461" y="693" width="5" height="16" fill="#ff5252"/>
<rect x="467" y="693" width="5" height="16" fill="#ffcdd2"/>
<rect x="473" y="693" width="4" height="13" fill="#ffcdd2"/>
<rect x="478" y="693" width="5" height="12" fill="#ffcdd2"/>
<rect x="484" y="693" width="5" height="11" fill="#ffcdd2"/>
<rect x="490" y="693" width="5" height="11" fill="#ffcdd2"/>
<rect x="496" y="693" width="4" height="10" fill="#ffcdd2"/>
<rect x="501" y="693" width="5" height="9" fill="#ffcdd2"/>
<rect x="507" y="693" width="5" height="6" fill="#ffcdd2"/>
<rect x="513" y="693" width="4" height="3" fill="#ffcdd2"/>
<rect x="518" y="693" width="5" height="3" fill="#ffcdd2"/>
<rect x="524" y="693" width="5" height="2" fill="#ffcdd2"/>
<rect x="530" y="693" width="5" height="1" fill="#26a69a"/>
<rect x="536" y="691" width="4" height="3" fill="#26a69a"/>
<rect x="541" y="690" width="5" height="4" fill="#26a69a"/>
<rect x="547" y="688" width="5" height="6" fill="#26a69a"/>
<rect x="553" y="686" width="4" height="8" fill="#26a69a"/>
<rect x="558" y="685" width="5" height="9" fill="#26a69a"/>
<rect x="564" y="685" width="5" height="9" fill="#26a69a"/>
<rect x="570" y="686" width="5" height="8" fill="#b2dfdb"/>
<rect x="576" y="684" width="4" height="10" fill="#26a69a"/>
<rect x="581" y="683" width="5" height="11" fill="#26a69a"/>
<rect x="587" y="683" width="5" height="11" fill="#26a69a"/>
<rect x="593" y="687" width="4" height="7" fill="#b2dfdb"/>
<rect x="598" y="692" width="5" height="2" fill="#b2dfdb"/>
<rect x="604" y="693" width="5" height="2" fill="#ff5252"/>
<rect x="610" y="693" width="5" height="3" fill="#ff5252"/>
<rect x="616" y="693" width="4" height="1" fill="#26a69a"/>
<rect x="621" y="692" width="5" height="2" fill="#26a69a"/>
<rect x="627" y="690" width="5" height="4" fill="#26a69a"/>
<rect x="633" y="689" width="5" height="5" fill="#26a69a"/>
<rect x="639" y="690" width="4" height="4" fill="#b2dfdb"/>
<rect x="644" y="691" width="5" height="3" fill="#b2dfdb"/>
<rect x="650" y="691" width="5" height="3" fill="#b2dfdb"/>
<rect x="656" y="693" width="4" height="3" fill="#ff5252"/>
<rect x="661" y="693" width="5" height="4" fill="#ff5252"/>
<rect x="667" y="693" width="5" height="5" fill="#ff5252"/>
<rect x="673" y="693" width="5" height="6" fill="#ff5252"/>
<rect x="679" y="693" width="4" height="5" fill="#ffcdd2"/>
<rect x="684" y="693" width="5" height="6" fill="#ff5252"/>
<rect x="690" y="693" width="5" height="8" fill="#ff5252"/>
<rect x="696" y="693" width="4" height="10" fill="#ff5252"/>
<rect x="701" y="693" width="5" height="10" fill="#ff5252"/>
<rect x="707" y="693" width="5" height="10" fill="#ff5252"/>
<rect x="713" y="693" width="5" height="8" fill="#ffcdd2"/>
<rect x="719" y="693" width="4" height="6" fill="#ffcdd2"/>
<rect x="724" y="693" width="5" height="4" fill="#ffcdd2"/>
<rect x="730" y="693" width="5" height="1" fill="#26a69a"/>
<rect x="736" y="692" width="4" height="2" fill="#26a69a"/>
<rect x="741" y="691" width="5" height="3" fill="#26a69a"/>
<rect x="747" y="690" width="5" height="4" fill="#26a69a"/>
<rect x="753" y="690" width="5" height="4" fill="#b2dfdb"/>
<rect x="759" y="689" width="4" height="5" fill="#26a69a"/>
<rect x="764" y="687" width="5" height="7" fill="#26a69a"/>
<rect x="770" y="687" width="5" height="7" fill="#26a69a"/>
<rect x="776" y="687" width="4" height="7" fill="#b2dfdb"/>
<rect x="781" y="687" width="5" height="7" fill="#26a69a"/>
<rect x="787" y="687" width="5" height="7" fill="#26a69a"/>
<rect x="793" y="686" width="5" height="8" fill="#26a69a"/>
<rect x="799" y="686" width="4" height="8" fill="#26a69a"/>
<rect x="804" y="685" width="5" height="9" fill="#26a69a"/>
<rect x="810" y="686" width="5" height="8" fill="#b2dfdb"/>
<rect x="816" y="687" width="5" height="7" fill="#b2dfdb"/>
<rect x="822" y="687" width="4" height="7" fill="#b2dfdb"/>
<rect x="827" y="689" width="5" height="5" fill="#b2dfdb"/>
<rect x="833" y="691" width="5" height="3" fill="#b2dfdb"/>
<rect x="839" y="691" width="4" height="3" fill="#b2dfdb"/>
<rect x="844" y="693" width="5" height="1" fill="#b2dfdb"/>
<rect x="850" y="693" width="5" height="2" fill="#ff5252"/>
<rect x="856" y="693" width="5" height="2" fill="#ffcdd2"/>
<rect x="862" y="693" width="4" height="1" fill="#ffcdd2"/>
<rect x="867" y="693" width="5" height="2" fill="#ff5252"/>
<rect x="873" y="693" width="5" height="2" fill="#ffcdd2"/>
<rect x="879" y="693" width="4" height="1" fill="#26a69a"/>
<rect x="884" y="692" width="5" height="2" fill="#26a69a"/>
<rect x="890" y="692" width="5" height="2" fill="#26a69a"/>
<line x1="13" y1="693.5" x2="1720" y2="693.5" stroke="#787b86" stroke-opacity="0.6" stroke-width="1" stroke-dasharray="5 6"/>
</g>
<polyline points="13.3,675.6 23.1,674.2 34.2,672.5 45.3,670.8 57.3,667.4 69.2,663.9 74.4,663.1 79.5,663.6 91.5,666.5 103.4,669.9 114.5,672.5 125.6,673.7 136.8,674.2 150.4,675.1 160.7,677.6 171.8,681.4 182.9,683.6 188.9,685.0 200.0,689.6 212.0,694.7 222.2,698.5 235.0,702.4 246.2,704.1 263.2,706.2 281.2,707.2 292.3,706.2 300.0,705.3 313.7,702.4 325.6,701.0 339.3,700.2 348.7,700.4 358.1,702.9 371.8,709.2 383.8,714.4 394.9,718.6 402.6,720.7 409.4,721.2 417.9,720.7 429.1,719.0 440.2,716.9 451.3,715.6 457.3,717.5 464.1,722.1 474.4,728.1 488.0,733.5 503.4,739.5 513.7,741.2 529.1,741.4 542.7,740.0 554.7,736.6 566.7,732.3 577.8,728.1 588.9,722.9 594.9,721.2 600.9,721.2 600.0,721.2 612.0,722.4 623.9,721.2 635.9,719.5 651.3,717.8 663.2,719.0 676.1,720.9 687.2,723.3 699.1,727.5 710.3,731.5 721.4,734.4 733.3,734.5 744.4,732.8 755.6,731.5 766.7,728.9 778.6,725.5 789.7,722.4 795.7,720.7 806.8,716.6 817.9,713.2 825.6,711.3 835.0,710.4 847.0,709.6 858.1,709.8 870.1,710.1 881.2,709.8 891.8,709.2" fill="none" stroke="#ff6d00" stroke-width="1.5" stroke-linejoin="round"/>
<polyline points="13.3,671.3 17.1,672.5 23.1,671.3 28.2,668.6 34.2,670.8 40.2,669.1 45.3,667.4 51.3,663.9 57.3,660.5 63.2,659.2 69.2,657.6 74.4,660.0 79.5,665.7 85.5,669.9 91.5,672.0 97.4,674.5 103.4,675.4 109.4,677.1 114.5,678.0 119.7,676.8 125.6,674.7 131.6,675.4 136.8,676.3 142.7,676.4 150.4,675.9 155.6,680.2 160.7,684.5 165.8,687.0 171.8,688.4 177.8,687.5 182.9,687.9 188.9,689.6 194.9,695.6 200.0,698.1 206.0,701.0 212.0,702.4 217.1,705.5 222.2,706.7 229.1,707.0 235.0,708.1 241.0,707.5 246.2,706.7 252.1,707.5 258.1,708.4 263.2,709.2 269.2,709.2 275.2,708.9 281.2,708.4 287.2,705.8 292.3,704.1 298.3,701.6 300.0,701.0 306.0,699.0 313.7,698.3 322.2,698.3 330.8,698.1 339.3,699.0 348.7,700.7 354.7,707.5 365.0,714.4 371.8,720.4 383.8,725.0 394.9,727.2 400.9,727.2 406.8,724.6 412.8,721.2 421.4,717.8 429.1,716.1 434.2,713.9 443.6,713.2 451.3,712.7 457.3,724.6 463.2,736.1 469.2,739.2 474.4,739.5 481.2,740.9 488.0,743.4 498.3,746.9 503.4,746.9 508.5,745.7 513.7,743.4 520.5,742.6 529.1,741.7 535.9,739.5 542.7,737.5 548.7,734.0 554.7,729.8 560.7,726.3 566.7,724.3 572.6,722.9 577.8,719.5 583.8,715.2 589.4,712.3 594.9,716.1 600.9,720.7 600.0,720.4 606.0,722.6 612.0,724.3 618.8,721.2 627.4,718.6 634.2,715.2 651.3,715.2 656.4,718.6 663.2,721.2 670.1,722.9 676.1,725.0 681.2,725.5 687.2,727.2 693.2,732.3 699.1,735.7 706.0,738.8 710.3,740.0 716.2,740.0 721.4,738.8 727.4,736.6 733.3,733.7 738.5,732.0 744.4,730.1 749.6,728.6 755.6,728.6 761.5,726.0 766.7,723.3 772.6,720.9 778.6,719.5 783.8,717.8 789.7,715.7 795.7,713.9 800.9,711.0 806.8,708.7 812.0,707.0 817.9,706.3 823.1,705.5 829.1,706.2 835.0,707.5 841.0,707.5 847.0,709.2 852.1,710.6 858.1,710.6 864.1,710.6 870.1,710.6 876.1,710.1 881.2,709.2 887.2,708.4 891.8,707.0" fill="none" stroke="#2962ff" stroke-width="1.5" stroke-linejoin="round"/>
</g>
<g shape-rendering="crispEdges" fill="#e0e3eb">
<rect x="13" y="436" width="1788" height="1"/>
<rect x="13" y="577" width="1788" height="1"/>
<rect x="13" y="646" width="1788" height="1"/>
</g>
<text x="11.81" y="24.8" fill="#000" textLength="489.23" lengthAdjust="spacingAndGlyphs">M_MTrades created with TradingView.com, Dec 25, 2025 08:04 UTC+5:30</text>
<text x="22.85" y="58.7" fill="#131722" textLength="23.53" lengthAdjust="spacingAndGlyphs">Ton</text>
<text x="52.90" y="58.7" fill="#131722" textLength="4.37" lengthAdjust="spacingAndGlyphs">/</text>
<text x="63.03" y="58.7" fill="#131722" textLength="42.44" lengthAdjust="spacingAndGlyphs">Tether</text>
<text x="112.8" y="58.7" text-anchor="middle" font-weight="bold" fill="#131722">·</text>
<text x="122.68" y="58.7" fill="#131722" textLength="14.55" lengthAdjust="spacingAndGlyphs">1D</text>
<text x="145" y="58.7" text-anchor="middle" font-weight="bold" fill="#131722">·</text>
<text x="152.19" y="58.7" fill="#131722" textLength="45.49" lengthAdjust="spacingAndGlyphs">KuCoin</text>
<text x="206.98" y="58.7" fill="#131722" textLength="10.07" lengthAdjust="spacingAndGlyphs">O</text>
<text x="271.16" y="58.7" fill="#131722" textLength="10.32" lengthAdjust="spacingAndGlyphs">H</text>
<text x="334.65" y="58.7" fill="#131722" textLength="7.96" lengthAdjust="spacingAndGlyphs">L</text>
<text x="395.99" y="58.7" fill="#131722" textLength="9.14" lengthAdjust="spacingAndGlyphs">C</text>
<text x="218.69" y="58.7" fill="#089981" textLength="43.02" lengthAdjust="spacingAndGlyphs">1.4937</text>
<text x="282.09" y="58.7" fill="#089981" textLength="42.91" lengthAdjust="spacingAndGlyphs">1.5149</text>
<text x="343.28" y="58.7" fill="#089981" textLength="42.39" lengthAdjust="spacingAndGlyphs">1.4911</text>
<text x="407.19" y="58.7" fill="#089981" textLength="43.01" lengthAdjust="spacingAndGlyphs">1.5149</text>
<text x="459.31" y="58.7" fill="#089981" textLength="51.47" lengthAdjust="spacingAndGlyphs">+0.0211</text>
<text x="516.40" y="58.7" fill="#089981" textLength="57.67" lengthAdjust="spacingAndGlyphs">(+1.41%)</text>
<text x="1678.78" y="289.8" fill="#2962ff" font-weight="bold" textLength="31.80" lengthAdjust="spacingAndGlyphs">High</text>
<text x="1647.88" y="346.8" fill="#f23645" font-weight="bold" textLength="62.45" lengthAdjust="spacingAndGlyphs">Daily S/R</text>
<text x="1730.21" y="116.8" fill="#131722" textLength="45.30" lengthAdjust="spacingAndGlyphs">3.0000</text>
<text x="1730.09" y="189.0" fill="#131722" textLength="45.43" lengthAdjust="spacingAndGlyphs">2.5000</text>
<text x="1730.09" y="261.0" fill="#131722" textLength="45.43" lengthAdjust="spacingAndGlyphs">2.0000</text>
<text x="1730.54" y="404.8" fill="#131722" textLength="45.17" lengthAdjust="spacingAndGlyphs">1.0000</text>
<text x="1729.47" y="479.0" fill="#131722" textLength="37.91" lengthAdjust="spacingAndGlyphs">60.00</text>
<text x="1729.47" y="566.3" fill="#131722" textLength="37.91" lengthAdjust="spacingAndGlyphs">20.00</text>
<text x="1731.21" y="750.3" fill="#131722" textLength="52.28" lengthAdjust="spacingAndGlyphs">−0.2000</text>
<path d="M1720,114.1H1780a2,2 0 0 1 2,2V132.7a2,2 0 0 1 -2,2H1720Z" fill="#000"/>
<text x="1730.17" y="130.0" fill="#fff" textLength="46.48" lengthAdjust="spacingAndGlyphs" stroke="#fff" stroke-width="0.3">2.9188</text>
<path d="M1720,163.2H1780a2,2 0 0 1 2,2V181.8a2,2 0 0 1 -2,2H1720Z" fill="#000"/>
<text x="1730.17" y="179.1" fill="#fff" textLength="46.48" lengthAdjust="spacingAndGlyphs" stroke="#fff" stroke-width="0.3">2.5766</text>
<path d="M1720,194.1H1780a2,2 0 0 1 2,2V212.7a2,2 0 0 1 -2,2H1720Z" fill="#9c27b0"/>
<text x="1730.18" y="210.0" fill="#fff" textLength="45.75" lengthAdjust="spacingAndGlyphs" stroke="#fff" stroke-width="0.3">2.3571</text>
<path d="M1720,288.1H1780a2,2 0 0 1 2,2V306.8a2,2 0 0 1 -2,2H1720Z" fill="#2962ff"/>
<text x="1730.61" y="304.0" fill="#fff" textLength="46.23" lengthAdjust="spacingAndGlyphs" stroke="#fff" stroke-width="0.3">1.7049</text>
<path d="M1720,316H1793a2,2 0 0 1 2,2V352.6a2,2 0 0 1 -2,2H1720Z" fill="#089981"/>
<text x="1730.51" y="331.8" fill="#fff" textLength="46.33" lengthAdjust="spacingAndGlyphs" stroke="#fff" stroke-width="0.3">1.5149</text>
<text x="1730.67" y="349.8" fill="#fff" textLength="59.21" lengthAdjust="spacingAndGlyphs" fill-opacity="0.75">21:25:59</text>
<path d="M1720,354.6H1779.6a2,2 0 0 1 2,2V372.6a2,2 0 0 1 -2,2H1720Z" fill="#9c27b0"/>
<text x="1730.55" y="369.7" fill="#fff" textLength="44.78" lengthAdjust="spacingAndGlyphs" stroke="#fff" stroke-width="0.3">1.4351</text>
<path d="M1720,376.1H1780a2,2 0 0 1 2,2V394.7a2,2 0 0 1 -2,2H1720Z" fill="#f23645"/>
<text x="1730.51" y="391.5" fill="#fff" textLength="46.13" lengthAdjust="spacingAndGlyphs" stroke="#fff" stroke-width="0.3">1.3105</text>
<path d="M1720,497.8H1772.1a2,2 0 0 1 2,2V516.8a2,2 0 0 1 -2,2H1720Z" fill="#7e57c2"/>
<text x="1730.64" y="513.6" fill="#fff" textLength="37.99" lengthAdjust="spacingAndGlyphs" stroke="#fff" stroke-width="0.3">44.17</text>
<path d="M1720,518.8H1772.1a2,2 0 0 1 2,2V537.7a2,2 0 0 1 -2,2H1720Z" fill="#fdd835"/>
<text x="1730.59" y="534.3" fill="#131722" textLength="37.99" lengthAdjust="spacingAndGlyphs">39.50</text>
<path d="M1720,625H1791a2,2 0 0 1 2,2V643.9a2,2 0 0 1 -2,2H1720Z" fill="#26a69a"/>
<text x="1730.28" y="640.9" fill="#fff" textLength="45.75" lengthAdjust="spacingAndGlyphs" stroke="#fff" stroke-width="0.3">255.68</text>
<text x="1778.03" y="640.9" fill="#fff" textLength="9.73" lengthAdjust="spacingAndGlyphs" stroke="#fff" stroke-width="0.3">K</text>
<path d="M1720,682.2H1779.6a2,2 0 0 1 2,2V700.8a2,2 0 0 1 -2,2H1720Z" fill="#26a69a"/>
<text x="1730.81" y="697.8" fill="#fff" textLength="45.49" lengthAdjust="spacingAndGlyphs" stroke="#fff" stroke-width="0.3">0.0074</text>
<path d="M1720,702.8H1787.6a2,2 0 0 1 2,2V721.7a2,2 0 0 1 -2,2H1720Z" fill="#2962ff"/>
<text x="1731.21" y="718.4" fill="#fff" textLength="52.61" lengthAdjust="spacingAndGlyphs" stroke="#fff" stroke-width="0.3">−0.0543</text>
<path d="M1720,723.7H1787.6a2,2 0 0 1 2,2V742.6a2,2 0 0 1 -2,2H1720Z" fill="#ff6d00"/>
<text x="1731.21" y="739.6" fill="#fff" textLength="52.61" lengthAdjust="spacingAndGlyphs" stroke="#fff" stroke-width="0.3">−0.0616</text>
<rect x="1724" y="39" width="72" height="31.6" rx="5" fill="#fff" stroke="#f1f1f2" stroke-width="1.8"/>
<text x="1734.55" y="60.2" fill="#131722" textLength="35.89" lengthAdjust="spacingAndGlyphs">USDT</text>
<text x="45.20" y="780.3" fill="#131722" textLength="25.14" lengthAdjust="spacingAndGlyphs">Aug</text>
<text x="222.03" y="780.3" fill="#131722" textLength="24.88" lengthAdjust="spacingAndGlyphs">Sep</text>
<text x="393.46" y="780.3" fill="#131722" textLength="24.10" lengthAdjust="spacingAndGlyphs">Oct</text>
<text x="569.48" y="780.3" fill="#131722" textLength="27.05" lengthAdjust="spacingAndGlyphs">Nov</text>
<text x="741.39" y="780.3" fill="#131722" textLength="26.91" lengthAdjust="spacingAndGlyphs">Dec</text>
<text x="914.49" y="780.3" fill="#131722" font-weight="bold" textLength="35.53" lengthAdjust="spacingAndGlyphs">2026</text>
<text x="1095.76" y="780.3" fill="#131722" textLength="26.82" lengthAdjust="spacingAndGlyphs">Feb</text>
<text x="1256.11" y="780.3" fill="#131722" textLength="25.64" lengthAdjust="spacingAndGlyphs">Mar</text>
<text x="1435.30" y="780.3" fill="#131722" textLength="22.98" lengthAdjust="spacingAndGlyphs">Apr</text>
<text x="1604.47" y="780.3" fill="#131722" textLength="26.75" lengthAdjust="spacingAndGlyphs">May</text>
<g transform="translate(15.4,815.3) scale(1.042)" fill="#131722"><path d="M14 22H7V11H0V4h14v18zM28 22h-8l7.5-18h8L28 22z"/><circle cx="20" cy="8" r="4"/></g>
<text x="62.16" y="838" fill="#131722" font-weight="bold" font-size="26.6" textLength="150.61" lengthAdjust="spacingAndGlyphs">TradingView</text>
</svg>
</body></html>
